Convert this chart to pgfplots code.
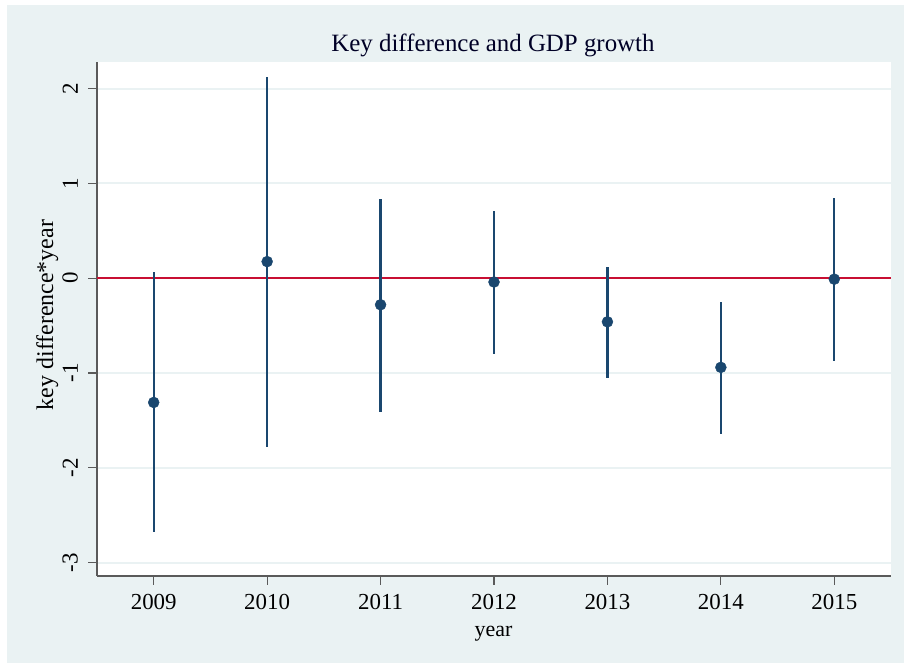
\documentclass[border=0pt]{standalone}
\usepackage{fontspec}
\setmainfont{Liberation Serif}
\usepackage{pgfplots}
\pgfplotsset{compat=1.18}
\usepackage{pgfplotstable}
\definecolor{bgblue}{RGB}{234,242,243}
\definecolor{navy}{RGB}{26,71,111}
\definecolor{redline}{RGB}{200,15,50}
\definecolor{axgray}{RGB}{90,90,90}
\pgfplotstableread{
x y lo hi
2009 -1.31 -2.68 0.07
2010 0.175 -1.78 2.12
2011 -0.28 -1.41 0.84
2012 -0.04 -0.80 0.71
2013 -0.46 -1.055 0.12
2014 -0.94 -1.64 -0.25
2015 -0.01 -0.87 0.85
}\est
\begin{document}
\begin{tikzpicture}[x=1bp,y=1bp]
\fill[white] (0,0) rectangle (904,663);
\fill[bgblue] (7,0) rectangle (904,658);
\path[use as bounding box] (0,0) rectangle (904,663);
\begin{axis}[
  at={(97bp,87bp)}, anchor=south west,
  scale only axis, width=794bp, height=514bp,
  xmin=2008.5, xmax=2015.5, ymin=-3.14, ymax=2.28,
  axis background/.style={fill=white},
  axis x line*=bottom, axis y line*=left,
  axis line style={-, axgray, line width=1.5bp},
  tick align=outside, major tick length=9bp,
  tick style={axgray, line width=1.2bp},
  xtick={2009,2010,2011,2012,2013,2014,2015},
  xticklabels={2009,2010,2011,2012,2013,2014,2015},
  ytick={-3,-2,-1,0,1,2},
  yticklabels={{-3},{-2},{-1},{0},{1},{2}},
  xticklabel style={anchor=base, inner sep=0pt, font=\fontsize{23}{27}\selectfont},
  xticklabel shift=25bp,
  yticklabel style={rotate=90, anchor=south, inner sep=0pt, font=\fontsize{23}{27}\selectfont},
  yticklabel shift=10bp,
  ymajorgrids, major grid style={bgblue, line width=2bp},
  clip=false,
]
\addplot[redline, line width=2bp] coordinates {(2008.5,0) (2015.5,0)};
\addplot[navy, only marks, mark=*, mark size=5.5bp, mark options={fill=navy, draw=navy},
  error bars/.cd, y dir=both, y explicit, error mark=none,
  error bar style={navy, line width=2.2bp}]
  table[x=x, y=y, y error plus expr=\thisrow{hi}-\thisrow{y}, y error minus expr=\thisrow{y}-\thisrow{lo}] {\est};
\end{axis}
\node[anchor=base, inner sep=0pt, font=\fontsize{25}{30}\selectfont, text=black!85!blue] at (493,611) {Key difference and GDP growth};
\node[anchor=base, inner sep=0pt, font=\fontsize{22}{26}\selectfont] at (493.5,26) {year};
\node[anchor=base, inner sep=0pt, rotate=90, font=\fontsize{24}{28}\selectfont] at (53,348) {key difference*year};
\end{tikzpicture}
\end{document}
